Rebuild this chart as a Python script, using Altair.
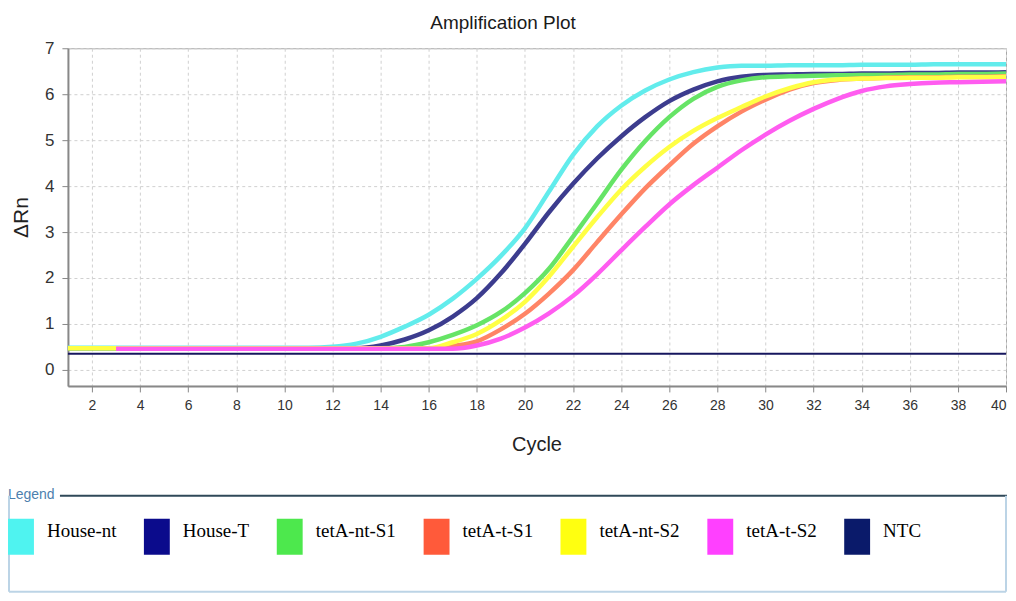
import altair as alt
import pandas as pd

cycles = list(range(1, 41))
series_names = ["House-nt", "House-T", "tetA-nt-S1", "tetA-t-S1", "tetA-nt-S2", "tetA-t-S2", "NTC"]

house_nt = [0.48, 0.48, 0.48, 0.48, 0.48, 0.48, 0.48, 0.48, 0.48, 0.48,
            0.48, 0.50, 0.57, 0.72, 0.94, 1.20, 1.55, 1.98, 2.48, 3.08,
            3.88, 4.68, 5.30, 5.75, 6.08, 6.32, 6.48, 6.58, 6.62, 6.62,
            6.63, 6.63, 6.63, 6.64, 6.64, 6.64, 6.65, 6.65, 6.65, 6.65]
house_t = [0.47, 0.47, 0.47, 0.47, 0.47, 0.47, 0.47, 0.47, 0.47, 0.47,
           0.47, 0.47, 0.47, 0.53, 0.66, 0.86, 1.16, 1.56, 2.10, 2.74,
           3.43, 4.05, 4.60, 5.08, 5.50, 5.85, 6.10, 6.28, 6.38, 6.42,
           6.43, 6.44, 6.44, 6.45, 6.45, 6.46, 6.46, 6.47, 6.47, 6.48]
teta_nt_s1 = [0.47, 0.47, 0.47, 0.47, 0.47, 0.47, 0.47, 0.47, 0.47, 0.47,
              0.47, 0.47, 0.47, 0.47, 0.50, 0.60, 0.76, 0.97, 1.26, 1.67,
              2.20, 2.90, 3.62, 4.35, 4.98, 5.50, 5.90, 6.16, 6.30, 6.37,
              6.39, 6.40, 6.41, 6.42, 6.42, 6.43, 6.43, 6.44, 6.44, 6.45]
teta_t_s1 = [None, None, 0.46, 0.46, 0.46, 0.46, 0.46, 0.46, 0.46, 0.46,
             0.46, 0.46, 0.46, 0.46, 0.46, 0.46, 0.52, 0.62, 0.88, 1.22,
             1.66, 2.17, 2.78, 3.38, 3.95, 4.45, 4.92, 5.30, 5.62, 5.88,
             6.10, 6.24, 6.31, 6.34, 6.36, 6.37, 6.37, 6.38, 6.38, 6.39]
teta_nt_s2 = [0.47, 0.47, 0.47, 0.47, 0.47, 0.47, 0.47, 0.47, 0.47, 0.47,
              0.47, 0.47, 0.47, 0.47, 0.47, 0.47, 0.60, 0.78, 1.08, 1.48,
              2.03, 2.68, 3.32, 3.92, 4.42, 4.85, 5.20, 5.48, 5.72, 5.95,
              6.13, 6.26, 6.32, 6.34, 6.35, 6.36, 6.36, 6.37, 6.37, 6.38]
teta_t_s2 = [None, None, 0.46, 0.46, 0.46, 0.46, 0.46, 0.46, 0.46, 0.46,
             0.46, 0.46, 0.46, 0.46, 0.46, 0.46, 0.46, 0.53, 0.68, 0.92,
             1.23, 1.61, 2.08, 2.60, 3.11, 3.60, 4.02, 4.40, 4.78, 5.12,
             5.42, 5.68, 5.90, 6.07, 6.17, 6.22, 6.25, 6.26, 6.27, 6.28]
ntc = [0.35, 0.35, 0.35, 0.35, 0.35, 0.35, 0.35, 0.35, 0.35, 0.35,
       0.35, 0.35, 0.35, 0.35, 0.35, 0.35, 0.35, 0.35, 0.35, 0.35,
       0.35, 0.35, 0.35, 0.35, 0.35, 0.35, 0.35, 0.35, 0.35, 0.35,
       0.35, 0.35, 0.35, 0.35, 0.35, 0.35, 0.35, 0.35, 0.35, 0.35]

curve_colors = ["#62ecec", "#3c3c8e", "#66e466", "#ff8466", "#ffff44", "#ff5cf0", "#16165e"]
legend_colors = ["#4ff3f0", "#0b0b8c", "#4de84d", "#ff5a3a", "#ffff10", "#ff40ff", "#0a1a6a"]
x_ticks = list(range(2, 41, 2))
y_ticks = list(range(0, 8))

all_series = [house_nt, house_t, teta_nt_s1, teta_t_s1, teta_nt_s2, teta_t_s2, ntc]
rows = []
for name, vals in zip(series_names, all_series):
    for c, v in zip(cycles, vals):
        if v is not None:
            rows.append({"Cycle": c, "dRn": v, "Series": name})
df = pd.DataFrame(rows)

x_enc = alt.X("Cycle:Q",
              scale=alt.Scale(domain=[1, 40], nice=False, zero=False),
              axis=alt.Axis(values=x_ticks, title="Cycle", labelFontSize=14,
                            labelPadding=7, titleX=469, titleY=59,
                            titleBaseline="middle", titleFontSize=20))
y_enc = alt.Y("dRn:Q",
              scale=alt.Scale(domain=[-0.35, 7], nice=False, zero=False),
              axis=alt.Axis(values=y_ticks, title="ΔRn", labelFontSize=17,
                            labelPadding=8, titleX=-46, titleY=169,
                            titleAlign="center", titleBaseline="middle",
                            titleFontSize=21))

legend_def = alt.Legend(title=None, orient="none", legendX=-65, legendY=471,
                        direction="horizontal",
                        symbolType="M-0.72,-1H0.72V1H-0.72Z",
                        symbolSize=1296, symbolStrokeWidth=0,
                        symbolOpacity=1,
                        labelFont="Liberation Serif", labelFontSize=19,
                        labelColor="#000000", labelOffset=8,
                        columnPadding=22, labelBaseline="alphabetic",
                        labelLimit=300, padding=0)

# stroke scale: data-driven domain (sorted like the legend) so it is not merged
# with the (explicit-domain) legend scale
stroke_enc = alt.Stroke("Series:N", sort=series_names,
                        scale=alt.Scale(range=curve_colors), legend=None)

base = alt.Chart(df)
curves = base.transform_filter("datum.Series != 'NTC'").mark_line(
    strokeWidth=4.5, interpolate="monotone").encode(x=x_enc, y=y_enc, stroke=stroke_enc)
ntc_line = base.transform_filter("datum.Series == 'NTC'").mark_line(
    strokeWidth=2).encode(x=x_enc, y=y_enc, stroke=stroke_enc)

legend_layer = base.mark_square(opacity=0, filled=True, size=1).encode(
    x=x_enc, y=y_enc,
    color=alt.Color("Series:N",
                    scale=alt.Scale(domain=series_names, range=legend_colors),
                    legend=legend_def))

deco_df = pd.DataFrame({"k": [0]})
deco = alt.Chart(deco_df)
legend_word = deco.mark_text(text="Legend", font="Liberation Sans", fontSize=14,
                             color="#4d7fae", align="left", baseline="middle").encode(
    x=alt.value(-60), y=alt.value(447))
legend_line = deco.mark_rule(color="#2f4858", strokeWidth=2).encode(
    x=alt.value(-8), x2=alt.value(940), y=alt.value(448))
box_left = deco.mark_rule(color="#bcd4e6", strokeWidth=2).encode(
    x=alt.value(-59), y=alt.value(448), y2=alt.value(544))
box_bottom = deco.mark_rule(color="#bcd4e6", strokeWidth=2).encode(
    x=alt.value(-59), x2=alt.value(939), y=alt.value(544))
box_right = deco.mark_rule(color="#bcd4e6", strokeWidth=2).encode(
    x=alt.value(939), y=alt.value(448), y2=alt.value(544))

chart = alt.layer(curves, ntc_line, legend_layer, legend_word, legend_line,
                  box_left, box_bottom, box_right).properties(
    width=939, height=338,
    title=alt.TitleParams("Amplification Plot", font="Liberation Sans", fontSize=19,
                          fontWeight="normal", color="#1a1a1a", anchor="middle",
                          frame="group", dx=-34, offset=6),
    autosize=alt.AutoSizeParams(type="none"),
    padding={"left": 60, "top": 40, "right": 2, "bottom": 207},
    background="white",
).configure_view(stroke="#a8a8a8", strokeWidth=1).configure_axis(
    labelFont="Liberation Sans", labelColor="#333333", titleFont="Liberation Sans",
    titleFontWeight="normal", titleColor="#222222", tickColor="#888888", tickSize=6,
    domainColor="#888888", domainWidth=2, grid=True, gridColor="#d0d0d0",
    gridDash=[3, 3], gridWidth=1
)

chart.save("out.html", embed_options={"renderer": "svg", "actions": False})
